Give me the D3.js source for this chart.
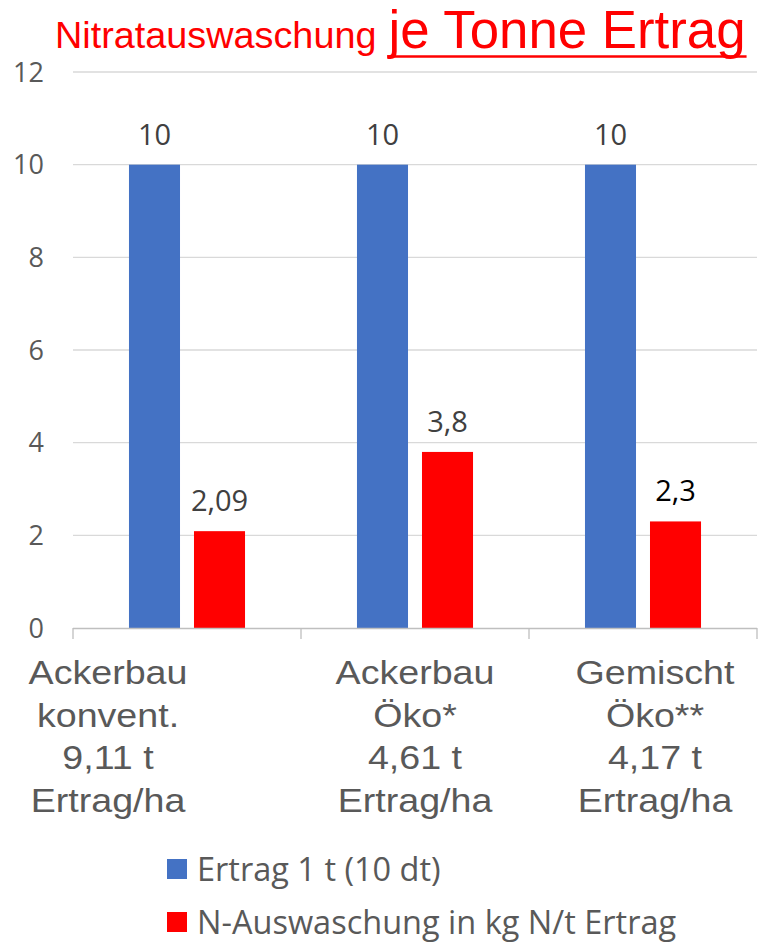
<!DOCTYPE html>
<html>
<head>
<meta charset="utf-8">
<script src="https://cdn.jsdelivr.net/npm/d3@7"></script>
<style>
  html, body { margin: 0; padding: 0; background: #fff; }
  svg { display: block; }
</style>
</head>
<body>
<svg id="chart" width="761" height="944"></svg>
<script>
// Chart data
const categories = ["Ackerbau konvent.", "Ackerbau Öko*", "Gemischt Öko**"];
const categoryLines = [
  ["Ackerbau", "konvent.", "9,11 t", "Ertrag/ha"],
  ["Ackerbau", "Öko*", "4,61 t", "Ertrag/ha"],
  ["Gemischt", "Öko**", "4,17 t", "Ertrag/ha"]
];
const seriesNames = ["Ertrag 1 t (10 dt)", "N-Auswaschung in kg N/t Ertrag"];
const ertragValues = [10, 10, 10];
const auswaschungValues = [2.09, 3.8, 2.3];
const valueLabels = [["10", "2,09"], ["10", "3,8"], ["10", "2,3"]];
const yTicks = [0, 2, 4, 6, 8, 10, 12];

const colors = ["#4472C4", "#FF0000"];
const seriesValues = [ertragValues, auswaschungValues];

const svg = d3.select("#chart");
const plot = { left: 73, right: 757, top: 72, bottom: 628 };

const y = d3.scaleLinear().domain([0, 12]).range([plot.bottom, plot.top]);
const x = d3.scaleBand().domain(categories).range([plot.left, plot.right]).paddingInner(0).paddingOuter(0);
const xs = d3.scaleBand().domain([0, 1]).range([0, x.bandwidth()]).paddingInner(0.215).paddingOuter(0.861);

// Title
const title = svg.append("text")
  .attr("x", 55).attr("y", 48)
  .attr("font-family", "Liberation Sans, Arial, sans-serif")
  .attr("fill", "#FF0000");
title.append("tspan").attr("font-size", 37.8).text("Nitratauswaschung");
const big = title.append("tspan").attr("font-size", 52.8).attr("dx", 12).text("je Tonne Ertrag");
{
  const first = big.node().getExtentOfChar(0);
  const n = big.text().length;
  const last = big.node().getExtentOfChar(n - 1);
  svg.append("line")
    .attr("x1", first.x - 1).attr("x2", last.x + last.width + 1)
    .attr("y1", 56.5).attr("y2", 56.5)
    .attr("stroke", "#FF0000").attr("stroke-width", 2.6);
}

// Gridlines
svg.append("g").selectAll("line")
  .data(yTicks.filter(d => d > 0))
  .join("line")
  .attr("x1", plot.left).attr("x2", plot.right)
  .attr("y1", d => y(d)).attr("y2", d => y(d))
  .attr("stroke", "#d9d9d9").attr("stroke-width", 1.3);

// Y tick labels
svg.append("g").selectAll("text")
  .data(yTicks)
  .join("text")
  .attr("x", 44).attr("y", d => y(d))
  .attr("dy", "0.36em")
  .attr("text-anchor", "end")
  .attr("font-family", "Open Sans, sans-serif")
  .attr("font-size", 27)
  .attr("fill", "#595959")
  .text(d => d);

// Bars
const groups = svg.append("g").selectAll("g")
  .data(categories)
  .join("g")
  .attr("transform", d => `translate(${x(d)},0)`);

const barData = (d, i) => seriesValues.map((vals, s) => ({ s, v: vals[i], label: valueLabels[i][s], cat: i }));

groups.selectAll("rect")
  .data(barData)
  .join("rect")
  .attr("x", d => xs(d.s))
  .attr("width", xs.bandwidth())
  .attr("y", d => y(d.v))
  .attr("height", d => y(0) - y(d.v))
  .attr("fill", d => colors[d.s]);

// Value labels
groups.selectAll("text")
  .data(barData)
  .join("text")
  .attr("x", d => xs(d.s) + xs.bandwidth() / 2)
  .attr("y", d => y(d.v) - 20)
  .attr("text-anchor", "middle")
  .attr("font-family", "Open Sans, sans-serif")
  .attr("font-size", 29)
  .attr("fill", d => (d.cat === 2 && d.s === 1) ? "#000000" : "#404040")
  .text(d => d.label);

// X axis line and ticks
const axis = svg.append("g");
axis.append("line")
  .attr("x1", plot.left).attr("x2", plot.right)
  .attr("y1", plot.bottom + 0.5).attr("y2", plot.bottom + 0.5)
  .attr("stroke", "#bfbfbf").attr("stroke-width", 1.3);
const boundaries = categories.map(c => x(c)).concat([x(categories[categories.length - 1]) + x.bandwidth()]);
axis.selectAll("line.tick")
  .data(boundaries)
  .join("line")
  .attr("class", "tick")
  .attr("x1", d => d).attr("x2", d => d)
  .attr("y1", plot.bottom).attr("y2", plot.bottom + 11)
  .attr("stroke", "#bfbfbf").attr("stroke-width", 1.3);

// Category labels (multi-line, text boxes shifted per category)
const labelShift = [-79, 0, 12];
const labelG = svg.append("g");
categories.forEach((c, i) => {
  const cx = x(c) + x.bandwidth() / 2 + labelShift[i];
  const t = labelG.append("text")
    .attr("transform", `translate(${cx},0) scale(1.14,1)`)
    .attr("text-anchor", "middle")
    .attr("font-family", "Liberation Sans, Arial, sans-serif")
    .attr("font-size", 33)
    .attr("fill", "#595959");
  categoryLines[i].forEach((line, k) => {
    t.append("tspan").attr("x", 0).attr("y", 684 + k * 42.6).text(line);
  });
});

// Legend
const legend = svg.append("g");
seriesNames.forEach((name, i) => {
  const ly = 869 + i * 53;
  legend.append("rect")
    .attr("x", 167).attr("y", ly - 10)
    .attr("width", 20).attr("height", 20)
    .attr("fill", colors[i]);
  legend.append("text")
    .attr("x", 197).attr("y", ly)
    .attr("dy", "0.36em")
    .attr("font-family", "Open Sans, sans-serif")
    .attr("font-size", 32.5)
    .attr("fill", "#595959")
    .text(name);
});
</script>
</body>
</html>
